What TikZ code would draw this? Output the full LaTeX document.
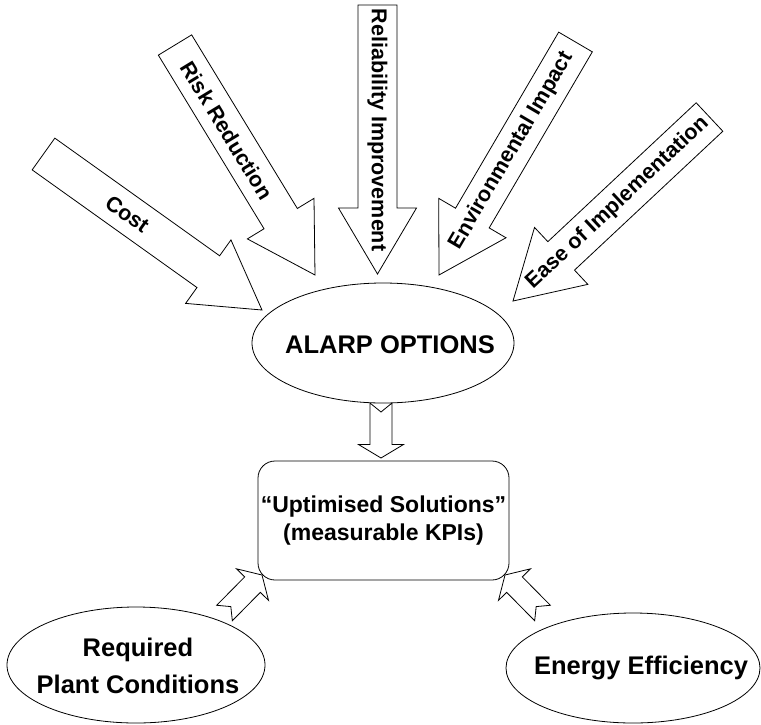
\documentclass[tikz,border=0pt]{standalone}
\usepackage{fontspec}
\setmainfont{Liberation Sans}
\usetikzlibrary{calc,shapes.geometric}

\tikzset{
  outline/.style={draw=black, line width=0.8pt, fill=white, line join=miter},
  bubble/.style={ellipse, draw=black, line width=0.8pt, fill=white, inner sep=0pt},
  roundbox/.style={rectangle, rounded corners=17pt, draw=black, line width=0.8pt, fill=white, inner sep=0pt},
  arrowtext/.style={font=\fontsize{21.5}{26}\selectfont\bfseries, inner sep=0pt},
  bigtext/.style={font=\fontsize{25.5}{37}\selectfont\bfseries, align=center, inner sep=0pt},
  boxtext/.style={font=\fontsize{23}{28}\selectfont\bfseries, align=center, inner sep=0pt}
}

% block arrow: #1 tail centre, #2 tip, #3 half shaft width, #4 half head width,
% #5 head length, #6 depth of the tail notch
\newcommand\blockarrow[6]{%
  \coordinate (ba-h) at ($(#2)!#5!(#1)$);
  \filldraw[outline]
    ($(#1)!#3!90:(#2)$) -- ($(ba-h)!#3!90:(#2)$) -- ($(ba-h)!#4!90:(#2)$)
    -- (#2)
    -- ($(ba-h)!#4!-90:(#2)$) -- ($(ba-h)!#3!-90:(#2)$) -- ($(#1)!#3!-90:(#2)$)
    -- ($(#1)!#6!(#2)$) -- cycle;
}

\begin{document}
\begin{tikzpicture}[x=1pt, y=-1pt]
  \useasboundingbox (0,0) rectangle (761,724);

  % criteria arrows feeding the options
  \coordinate (costT) at (43.5,154);  \coordinate (costP) at (262,310);
  \coordinate (riskT) at (175,45);    \coordinate (riskP) at (315,275);
  \coordinate (relT)  at (377.5,5);   \coordinate (relP)  at (377.5,274);
  \coordinate (envT)  at (575.5,42);  \coordinate (envP)  at (439,275);
  \coordinate (easeT) at (709.5,117); \coordinate (easeP) at (513,301);

  \blockarrow{costT}{costP}{19.5pt}{39pt}{66pt}{0pt}
  \blockarrow{riskT}{riskP}{19.5pt}{39pt}{66pt}{0pt}
  \blockarrow{relT}{relP}{19.5pt}{39pt}{66pt}{0pt}
  \blockarrow{envT}{envP}{19.5pt}{39pt}{66pt}{0pt}
  \blockarrow{easeT}{easeP}{19.5pt}{39pt}{66pt}{0pt}

  \node[arrowtext, rotate=-35.5] (cost) at ($(costT)!103pt!(costP)$) {Cost};
  \node[arrowtext, rotate=-58.7] (risk) at ($(riskT)!100pt!(riskP)$) {Risk Reduction};
  \node[arrowtext, rotate=-90]   (rel)  at ($(relT)!125pt!(relP)$) {Reliability Improvement};
  \node[arrowtext, rotate=59.6]  (env)  at ($(envT)!126pt!(envP)$) {Environmental Impact};
  \node[arrowtext, rotate=43.1]  (ease) at ($(easeT)!126pt!(easeP)$) {Ease of Implementation};

  % small arrows towards the solutions box
  \coordinate (downT)  at (381,403);   \coordinate (downP)  at (381,458);
  \coordinate (leftT)  at (224.5,613); \coordinate (leftP)  at (262,575);
  \coordinate (rightT) at (542.5,613); \coordinate (rightP) at (505,575);

  \blockarrow{downT}{downP}{11pt}{22.5pt}{13.5pt}{9pt}
  \blockarrow{leftT}{leftP}{11pt}{22.5pt}{13.5pt}{9pt}
  \blockarrow{rightT}{rightP}{11pt}{22.5pt}{13.5pt}{9pt}

  % central options and outcomes
  \node[bubble, minimum width=262pt, minimum height=120pt] (alarp) at (383,343) {};
  \node[bigtext] at (390,345) {ALARP OPTIONS};

  \node[roundbox, minimum width=251pt, minimum height=119pt] (sol) at (383.5,520.5) {};
  \node[boxtext] at (383.5,521) {“Uptimised Solutions”\\(measurable KPIs)};

  \node[bubble, minimum width=258pt, minimum height=116pt] (plant) at (136,665) {};
  \node[bigtext] at (138,666) {Required\\Plant Conditions};

  \node[bubble, minimum width=254pt, minimum height=110pt] (energy) at (633,668) {};
  \node[bigtext] at (641,668) {Energy Efficiency};
\end{tikzpicture}
\end{document}
